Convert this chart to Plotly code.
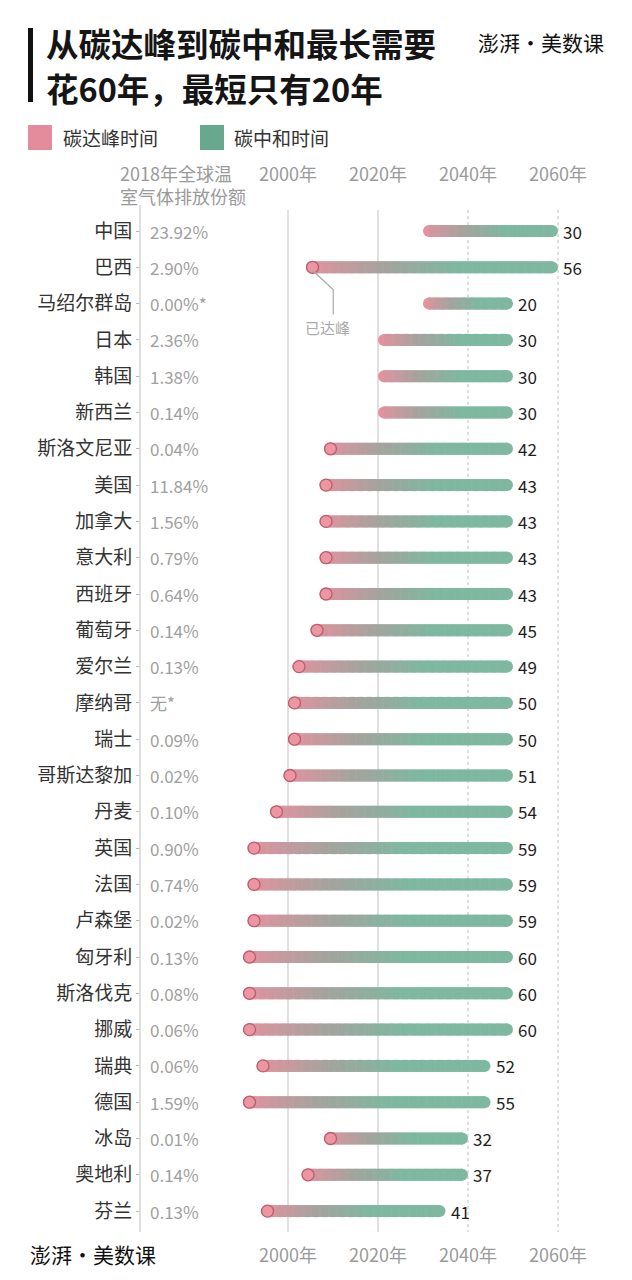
import plotly.graph_objects as go

# ---------------- data ----------------
countries = ["中国", "巴西", "马绍尔群岛", "日本", "韩国", "新西兰", "斯洛文尼亚", "美国",
             "加拿大", "意大利", "西班牙", "葡萄牙", "爱尔兰", "摩纳哥", "瑞士", "哥斯达黎加",
             "丹麦", "英国", "法国", "卢森堡", "匈牙利", "斯洛伐克", "挪威", "瑞典", "德国",
             "冰岛", "奥地利", "芬兰"]
shares = ["23.92%", "2.90%", "0.00%*", "2.36%", "1.38%", "0.14%", "0.04%", "11.84%",
          "1.56%", "0.79%", "0.64%", "0.14%", "0.13%", "无*", "0.09%", "0.02%",
          "0.10%", "0.90%", "0.74%", "0.02%", "0.13%", "0.08%", "0.06%", "0.06%", "1.59%",
          "0.01%", "0.14%", "0.13%"]
neutral_year = [2060, 2060, 2050, 2050, 2050, 2050, 2050, 2050, 2050, 2050, 2050, 2050,
                2050, 2050, 2050, 2050, 2050, 2050, 2050, 2050, 2050, 2050, 2050, 2045,
                2045, 2040, 2040, 2035]
years_needed = [30, 56, 20, 30, 30, 30, 42, 43, 43, 43, 43, 45, 49, 50, 50, 51, 54, 59,
                59, 59, 60, 60, 60, 52, 55, 32, 37, 41]
already_peaked = [False, True, False, False, False, False] + [True] * 22
tick_years = [2000, 2020, 2040, 2060]
tick_labels = ["2000年", "2020年", "2040年", "2060年"]
title_lines = ["从碳达峰到碳中和最长需要", "花60年，最短只有20年"]

peak_year = [n - y for n, y in zip(neutral_year, years_needed)]

# ---------------- layout geometry ----------------
W, H = 632, 1280
PX_2000, PX_PER_YR = 288, 4.5
ROW0_PX, ROW_STEP = 231, 36.3
x_range = [2000 - PX_2000 / PX_PER_YR, 2000 + (W - PX_2000) / PX_PER_YR]
y_range = [(H - ROW0_PX) / ROW_STEP, -ROW0_PX / ROW_STEP]


def px(x):
    return x / W


def py(y):
    return 1 - y / H


FONT = "Noto Sans CJK SC, Noto Sans, sans-serif"
PINK = (228, 146, 158)
GREY = (165, 163, 158)
GREEN = (126, 184, 160)
BAR_PX = 12
CAP_R = (BAR_PX / 2) / PX_PER_YR


def lerp(c1, c2, t):
    return tuple(int(round(a + (b - a) * t)) for a, b in zip(c1, c2))


def bar_color(t):
    if t < 0.3:
        c = lerp(PINK, GREY, t / 0.3)
    elif t < 0.6:
        c = lerp(GREY, GREEN, (t - 0.3) / 0.3)
    else:
        c = GREEN
    return "rgb(%d,%d,%d)" % c


fig = go.Figure()

# gradient bars built from short vertical strokes
seg_x, seg_y, seg_c = [], [], []
cap_x, cap_y, cap_c = [], [], []
step = 0.2
for i, (s, e) in enumerate(zip(peak_year, neutral_year)):
    a, b = s + CAP_R, e - CAP_R
    n = int(round((b - a) / step))
    for k in range(n + 1):
        x = a + (b - a) * k / n
        seg_x.append(x)
        seg_y.append(i)
        seg_c.append(bar_color((x - s) / (e - s)))
    cap_x += [a, b]
    cap_y += [i, i]
    cap_c += [bar_color(0), bar_color(1)]

fig.add_trace(go.Scatter(
    x=cap_x, y=cap_y, mode="markers", hoverinfo="skip", showlegend=False,
    marker=dict(symbol="circle", size=BAR_PX, color=cap_c, line=dict(width=0))))
fig.add_trace(go.Scatter(
    x=seg_x, y=seg_y, mode="markers", hoverinfo="skip", showlegend=False,
    marker=dict(symbol="line-ns", size=BAR_PX / 1.4, color=seg_c,
                line=dict(width=1.6, color=seg_c))))

# peak circles
pk_x = [s + 1.45 for s, p in zip(peak_year, already_peaked) if p]
pk_y = [i for i, p in enumerate(already_peaked) if p]
fig.add_trace(go.Scatter(
    x=pk_x, y=pk_y, mode="markers", hoverinfo="skip", showlegend=False,
    marker=dict(symbol="circle", size=12, color="rgb(236,150,162)",
                line=dict(width=1.3, color="rgb(190,92,108)"))))

shapes = []
annotations = []

# grid lines
for yr in tick_years:
    shapes.append(dict(type="line", xref="x", yref="paper", x0=yr, x1=yr,
                       y0=py(210), y1=py(1232), layer="below",
                       line=dict(color="#d6d6d6", width=1.5,
                                 dash="solid" if yr <= 2020 else "dot")))
# left separator line
shapes.append(dict(type="line", xref="paper", yref="paper", x0=px(140), x1=px(140),
                   y0=py(205), y1=py(1232), line=dict(color="#d4d4d4", width=1.5)))

# value labels
for i, (e, y) in enumerate(zip(neutral_year, years_needed)):
    annotations.append(dict(x=e, y=i, xref="x", yref="y", text=str(y), showarrow=False,
                            xanchor="left", xshift=3, font=dict(size=17, color="#1e1e1e", family=FONT)))

# share labels
for i, s in enumerate(shares):
    annotations.append(dict(x=px(148), y=i, xref="paper", yref="y", text=s, showarrow=False,
                            xanchor="left", font=dict(size=17, color="#a0a0a0", family=FONT)))

# year tick labels top & bottom
for yr, lab in zip(tick_years, tick_labels):
    for ypx in (173, 1254):
        annotations.append(dict(x=yr, y=py(ypx), xref="x", yref="paper", text=lab,
                                showarrow=False, xanchor="center", yanchor="middle",
                                font=dict(size=18, color="#9a9a9a", family=FONT)))

# column header (two lines)
annotations.append(dict(x=px(118), y=py(184), xref="paper", yref="paper",
                        text="2018年全球温<br>室气体排放份额",
                        showarrow=False, xanchor="left", yanchor="middle", align="left",
                        font=dict(size=18, color="#9a9a9a", family=FONT)))

# "已达峰" callout on Brazil
bx = peak_year[1] + 1.45
shapes.append(dict(type="path", xref="x", yref="y",
                   path="M %f,%f L %f,%f L %f,%f" % (bx, 1.08, bx + 4.6, 1.62, bx + 4.6, 2.3),
                   line=dict(color="#aaaaaa", width=1.2)))
annotations.append(dict(x=bx + 3.4, y=2.67, xref="x", yref="y", text="已达峰", showarrow=False,
                        xanchor="center", yanchor="middle",
                        font=dict(size=15, color="#aaaaaa", family=FONT)))

# title
shapes.append(dict(type="rect", xref="paper", yref="paper", x0=px(28), x1=px(33),
                   y0=py(102), y1=py(28), fillcolor="#111", line=dict(width=0)))
for line, ypx in zip(title_lines, (42, 88)):
    annotations.append(dict(x=px(44), y=py(ypx), xref="paper", yref="paper",
                            text="<b>%s</b>" % line,
                            showarrow=False, xanchor="left", yanchor="middle",
                            font=dict(size=32.5, color="#151515", family=FONT)))

# logos
annotations.append(dict(x=px(606), y=py(42), xref="paper", yref="paper", text="澎湃·美数课",
                        showarrow=False, xanchor="right", yanchor="middle",
                        font=dict(size=21, color="#111", family=FONT)))
annotations.append(dict(x=px(28), y=py(1254), xref="paper", yref="paper", text="澎湃·美数课",
                        showarrow=False, xanchor="left", yanchor="middle",
                        font=dict(size=21, color="#111", family=FONT)))

# legend
shapes.append(dict(type="rect", xref="paper", yref="paper", x0=px(28), x1=px(52),
                   y0=py(150), y1=py(125), fillcolor="rgb(228,140,156)", line=dict(width=0)))
shapes.append(dict(type="rect", xref="paper", yref="paper", x0=px(200), x1=px(224),
                   y0=py(150), y1=py(125), fillcolor="rgb(104,168,142)", line=dict(width=0)))
annotations.append(dict(x=px(61), y=py(137), xref="paper", yref="paper", text="碳达峰时间",
                        showarrow=False, xanchor="left", yanchor="middle",
                        font=dict(size=19, color="#333", family=FONT)))
annotations.append(dict(x=px(232), y=py(137), xref="paper", yref="paper", text="碳中和时间",
                        showarrow=False, xanchor="left", yanchor="middle",
                        font=dict(size=19, color="#333", family=FONT)))

fig.update_layout(
    width=W, height=H, margin=dict(l=0, r=0, t=0, b=0),
    paper_bgcolor="white", plot_bgcolor="white",
    shapes=shapes, annotations=annotations, showlegend=False,
    xaxis=dict(range=x_range, visible=False, fixedrange=True),
    yaxis=dict(range=y_range, anchor="free", position=px(140), side="left",
               tickmode="array", tickvals=list(range(len(countries))), ticktext=countries,
               ticks="outside", ticklen=4, tickwidth=1, tickcolor="#bbbbbb",
               tickfont=dict(size=19, color="#333", family=FONT),
               showgrid=False, zeroline=False, showline=False, fixedrange=True),
)

fig.write_html("out.html")
